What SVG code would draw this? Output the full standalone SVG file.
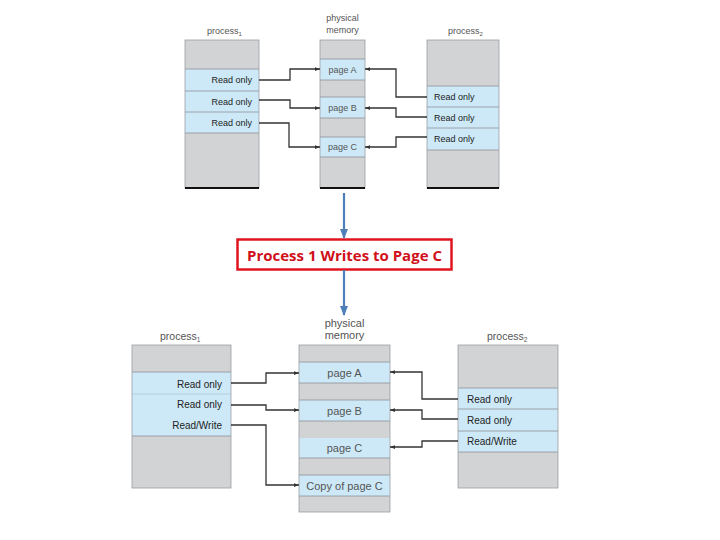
<svg xmlns="http://www.w3.org/2000/svg" width="720" height="540" viewBox="0 0 720 540">
<style>
.g{fill:#d2d3d4}
.b{fill:#cde9f8}
.sep{stroke:#8a8f94;stroke-width:0.8;fill:none}
.frame{stroke:#9a9ea2;stroke-width:0.8;fill:none}
.t9{font-family:"Liberation Sans",Arial,sans-serif;font-size:9px;fill:#222}
.t10{font-family:"Liberation Sans",Arial,sans-serif;font-size:10px;fill:#222}
.lab{font-family:"Liberation Sans",Arial,sans-serif;fill:#555}
.c{stroke:#333;stroke-width:1.3;fill:none;marker-end:url(#ah)}
.blue{stroke:#4f7fb8;stroke-width:2.2;fill:none;marker-end:url(#bh)}
</style>
<defs>
<marker id="ah" viewBox="0 0 8 6" refX="8" refY="3" markerWidth="5" markerHeight="4" markerUnits="userSpaceOnUse" orient="auto"><path d="M0,0 L8,3 L0,6 z" fill="#333"/></marker>
<marker id="bh" viewBox="0 0 10 8" refX="9" refY="4" markerWidth="10" markerHeight="8" markerUnits="userSpaceOnUse" orient="auto"><path d="M0,0 L10,4 L0,8 z" fill="#4f7fb8"/></marker>
</defs>
<rect width="720" height="540" fill="#fff"/>

<!-- TOP DIAGRAM -->
<g id="top-process1">
<text class="lab" x="207" y="34" font-size="9">process<tspan font-size="6" dy="2">1</tspan></text>
<rect class="g" x="185" y="40" width="74" height="148"/>
<rect class="b" x="185" y="69" width="74" height="64"/>
<path class="sep" d="M185,69H259M185,91H259M185,112H259M185,133H259"/>
<rect class="frame" x="185" y="40" width="74" height="148"/>
<line x1="185" y1="188" x2="259" y2="188" stroke="#111" stroke-width="2"/>
<text class="t9" x="252" y="83" text-anchor="end">Read only</text>
<text class="t9" x="252" y="105" text-anchor="end">Read only</text>
<text class="t9" x="252" y="126" text-anchor="end">Read only</text>
</g>
<g id="top-memory">
<text class="lab" x="342.5" y="21" font-size="9" text-anchor="middle">physical</text>
<text class="lab" x="342.5" y="33" font-size="9" text-anchor="middle">memory</text>
<rect class="g" x="320" y="40" width="45" height="148"/>
<rect class="b" x="320" y="59" width="45" height="21"/>
<rect class="b" x="320" y="97" width="45" height="21"/>
<rect class="b" x="320" y="137" width="45" height="20"/>
<path class="sep" d="M320,59H365M320,80H365M320,97H365M320,118H365M320,137H365M320,157H365"/>
<rect class="frame" x="320" y="40" width="45" height="148"/>
<line x1="320" y1="188" x2="365" y2="188" stroke="#111" stroke-width="2"/>
<text class="lab" x="342.5" y="73" font-size="9" text-anchor="middle">page A</text>
<text class="lab" x="342.5" y="111" font-size="9" text-anchor="middle">page B</text>
<text class="lab" x="342.5" y="150" font-size="9" text-anchor="middle">page C</text>
</g>
<g id="top-process2">
<text class="lab" x="448" y="34" font-size="9">process<tspan font-size="6" dy="2">2</tspan></text>
<rect class="g" x="427" y="40" width="72" height="148"/>
<rect class="b" x="427" y="86" width="72" height="64"/>
<path class="sep" d="M427,86H499M427,107H499M427,128H499M427,150H499"/>
<rect class="frame" x="427" y="40" width="72" height="148"/>
<line x1="427" y1="188" x2="499" y2="188" stroke="#111" stroke-width="2"/>
<text class="t9" x="434" y="100">Read only</text>
<text class="t9" x="434" y="121">Read only</text>
<text class="t9" x="434" y="142">Read only</text>
</g>

<!-- MIDDLE -->
<g id="event">
<rect x="237.5" y="239.5" width="214" height="30" fill="#fff" stroke="#e0141e" stroke-width="2.5"/>
<text x="344.5" y="260.5" text-anchor="middle" font-family="'Open Sans','Liberation Sans',sans-serif" font-weight="bold" font-size="15" fill="#d0101a">Process 1 Writes to Page C</text>
</g>

<!-- BOTTOM DIAGRAM -->
<g id="bot-process1">
<text class="lab" x="160" y="340" font-size="10.5">process<tspan font-size="6.5" dy="2">1</tspan></text>
<rect class="g" x="132" y="345" width="99" height="143"/>
<rect class="b" x="132" y="372" width="99" height="64"/>
<path class="sep" d="M132,372H231M132,436H231"/>
<path d="M132,394H231" stroke="#a9c6d6" stroke-width="0.7"/>
<rect class="frame" x="132" y="345" width="99" height="143"/>
<text class="t10" x="222" y="388" text-anchor="end">Read only</text>
<text class="t10" x="222" y="408" text-anchor="end">Read only</text>
<text class="t10" x="222" y="429" text-anchor="end">Read/Write</text>
</g>
<g id="bot-memory">
<text class="lab" x="344.5" y="327" font-size="11" text-anchor="middle">physical</text>
<text class="lab" x="344.5" y="339" font-size="11" text-anchor="middle">memory</text>
<rect class="g" x="299" y="345" width="91" height="167"/>
<rect class="b" x="299" y="362" width="91" height="21"/>
<rect class="b" x="299" y="400" width="91" height="21"/>
<rect class="b" x="299" y="438" width="91" height="20"/>
<rect class="b" x="299" y="475" width="91" height="21"/>
<path class="sep" d="M299,362H390M299,383H390M299,400H390M299,421H390M299,458H390M299,475H390M299,496H390"/>
<rect class="frame" x="299" y="345" width="91" height="167"/>
<text class="lab" x="344.5" y="377" font-size="11" text-anchor="middle">page A</text>
<text class="lab" x="344.5" y="415" font-size="11" text-anchor="middle">page B</text>
<text class="lab" x="344.5" y="452" font-size="11" text-anchor="middle">page C</text>
<text class="lab" x="344.5" y="490" font-size="11" text-anchor="middle">Copy of page C</text>
</g>
<g id="bot-process2">
<text class="lab" x="487" y="340" font-size="10.5">process<tspan font-size="6.5" dy="2">2</tspan></text>
<rect class="g" x="458" y="345" width="100" height="143"/>
<rect class="b" x="458" y="388" width="100" height="64"/>
<path class="sep" d="M458,388H558M458,409H558M458,431H558M458,452H558"/>
<rect class="frame" x="458" y="345" width="100" height="143"/>
<text class="t10" x="467" y="403">Read only</text>
<text class="t10" x="467" y="424">Read only</text>
<text class="t10" x="467" y="445">Read/Write</text>
</g>

<g id="connectors">
<path class="c" d="M259,80H290V69H320"/>
<path class="c" d="M259,100H290V108H320"/>
<path class="c" d="M259,123H289V147H320"/>
<path class="c" d="M427,97H396V69H365"/>
<path class="c" d="M427,117H396V108H365"/>
<path class="c" d="M427,137H396V147H365"/>
<path class="blue" d="M344,193V238"/>
<path class="blue" d="M344,270V315"/>
<path class="c" d="M231,383H266V373H299"/>
<path class="c" d="M231,405H266V410H299"/>
<path class="c" d="M231,425H266V485H299"/>
<path class="c" d="M458,399H422V372H390"/>
<path class="c" d="M458,419H422V410H390"/>
<path class="c" d="M458,441H422V447H390"/>
</g>
</svg>
